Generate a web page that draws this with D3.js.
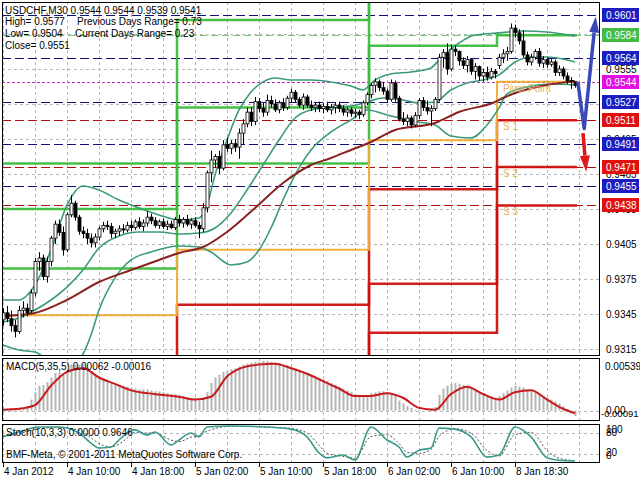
<!DOCTYPE html>
<html><head><meta charset="utf-8">
<script src="https://cdn.jsdelivr.net/npm/d3@7"></script>
<style>
body{margin:0;background:#fff}
svg{display:block}
text{font-family:"Liberation Sans",Arial,sans-serif;font-size:10px}
</style>
</head><body>
<svg id="c" width="640" height="480"></svg>
<script>
// ---------- DATA ----------
const open =[.9340,.9346,.9341,.9335,.9330,.9348,.9350,.9348,.9363,.9390,.9393,.9377,.9390,.9410,.9422,.9415,.9400,.9430,.9440,.9428,.9416,.9414,.9410,.9406,.9411,.9418,.9421,.9420,.9414,.9416,.9418,.9417,.9421,.9419,.9424,.9420,.9423,.9428,.9425,.9421,.9424,.9420,.9422,.9419,
.9426,.9423,.9426,.9422,.9425,.9421,.9418,.9436,.9466,.9477,.9480,.9470,.9490,.9487,.9491,.9488,.9500,.9508,.9518,.9510,.9527,.9521,.9518,.9528,.9525,.9520,.9526,.9522,.9530,.9535,.9529,.9524,.9531,.9524,.9522,.9524,.9521,.9523,.9520,.9522,.9524,.9521,.9518,.9520,.9517,.9518,.9516,.9526,
.9533,.9541,.9544,.9539,.9536,.9529,.9543,.9530,.9512,.9510,.9513,.9507,.9515,.9528,.9522,.9519,.9521,.9529,.9565,.9569,.9555,.9572,.9570,.9562,.9558,.9563,.9553,.9557,.9549,.9552,.9548,.9553,
.9558,.9565,.9568,.9570,.9590,.9586,.9579,.9567,.9561,.9565,.9570,.9560,.9563,.9559,.9561,.9552,.9555,.9549,.9545,.9544];
const high =[.9350,.9352,.9348,.9340,.9352,.9356,.9354,.9366,.9393,.9398,.9396,.9394,.9412,.9425,.9426,.9420,.9432,.9447,.9442,.9430,.9420,.9418,.9414,.9414,.9420,.9424,.9425,.9423,.9418,.9421,.9422,.9424,.9425,.9426,.9428,.9426,.9433,.9431,.9428,.9426,.9427,.9425,.9425,.9428,
.9430,.9428,.9430,.9427,.9428,.9424,.9440,.9468,.9485,.9482,.9485,.9494,.9496,.9494,.9495,.9504,.9512,.9522,.9522,.9531,.9530,.9526,.9533,.9532,.9529,.9528,.9530,.9532,.9538,.9537,.9531,.9534,.9533,.9528,.9526,.9527,.9526,.9527,.9525,.9526,.9527,.9524,.9522,.9522,.9521,.9520,.9528,.9535,
.9543,.9547,.9546,.9544,.9538,.9546,.9545,.9532,.9518,.9516,.9515,.9518,.9530,.9531,.9528,.9524,.9531,.9568,.9572,.9577,.9576,.9575,.9571,.9565,.9566,.9564,.9560,.9558,.9555,.9557,.9556,.9555,
.9568,.9572,.9574,.9594,.9593,.9589,.9588,.9570,.9568,.9572,.9573,.9566,.9565,.9564,.9563,.9558,.9557,.9552,.9548,.9544];
const low  =[.9335,.9338,.9330,.9325,.9328,.9342,.9343,.9346,.9360,.9382,.9374,.9372,.9386,.9405,.9412,.9395,.9398,.9428,.9425,.9413,.9410,.9405,.9402,.9402,.9408,.9415,.9417,.9410,.9410,.9412,.9414,.9415,.9416,.9417,.9418,.9416,.9420,.9422,.9419,.9418,.9418,.9417,.9418,.9417,
.9420,.9419,.9420,.9418,.9419,.9410,.9415,.9432,.9458,.9470,.9465,.9468,.9484,.9482,.9484,.9478,.9490,.9505,.9506,.9507,.9518,.9514,.9515,.9522,.9518,.9517,.9519,.9520,.9526,.9526,.9522,.9520,.9522,.9519,.9518,.9518,.9517,.9518,.9516,.9517,.9518,.9515,.9514,.9514,.9513,.9512,.9514,.9524,
.9530,.9535,.9536,.9533,.9526,.9527,.9527,.9510,.9507,.9506,.9504,.9505,.9512,.9519,.9516,.9506,.9519,.9527,.9556,.9550,.9553,.9566,.9558,.9555,.9552,.9550,.9546,.9545,.9544,.9545,.9546,.9547,
.9555,.9560,.9562,.9568,.9582,.9576,.9565,.9558,.9558,.9563,.9557,.9556,.9556,.9557,.9549,.9549,.9546,.9542,.9538,.9539];
const close=[.9346,.9341,.9335,.9330,.9348,.9350,.9346,.9363,.9390,.9393,.9377,.9390,.9410,.9422,.9415,.9400,.9430,.9440,.9428,.9416,.9414,.9410,.9406,.9411,.9418,.9421,.9420,.9414,.9416,.9418,.9417,.9421,.9419,.9424,.9420,.9423,.9428,.9425,.9421,.9424,.9420,.9422,.9419,.9426,
.9423,.9426,.9422,.9425,.9421,.9418,.9436,.9466,.9477,.9480,.9470,.9490,.9487,.9491,.9488,.9500,.9508,.9518,.9510,.9527,.9521,.9518,.9528,.9525,.9520,.9526,.9522,.9530,.9535,.9529,.9524,.9531,.9524,.9522,.9524,.9521,.9523,.9520,.9522,.9524,.9521,.9518,.9520,.9517,.9518,.9516,.9526,.9533,
.9541,.9544,.9539,.9536,.9529,.9543,.9530,.9512,.9510,.9513,.9507,.9515,.9528,.9522,.9519,.9521,.9529,.9565,.9569,.9555,.9572,.9570,.9562,.9558,.9563,.9553,.9557,.9549,.9552,.9548,.9553,.9551,
.9565,.9568,.9570,.9590,.9586,.9579,.9567,.9561,.9565,.9570,.9560,.9563,.9559,.9561,.9552,.9555,.9549,.9545,.9544,.9541];

const maIdx=[0,8,16,24,32,39,44,50,56,63,70,77,82,87,92,98,108,114,123,125,128,136,141,143];
const maVal=[.93433,.93459,.9357,.93724,.93827,.93913,.93973,.94024,.94153,.94359,.94573,.94727,.94787,.94856,.94924,.95027,.95087,.95181,.95267,.95301,.95344,.95413,.95438,.95447];

const bbUpIdx=[0,4,8,12,16,20,24,29,34,39,44,49,51,53,56,59,62,65,68,72,77,82,87,90,93,97,102,107,109,114,118,124,130,136,143];
const bbUp=[.9357,.9357,.93699,.93999,.94384,.94547,.94513,.94427,.94359,.94299,.94256,.94273,.94384,.94641,.94941,.95199,.95353,.95439,.95473,.95456,.95456,.95439,.95404,.9537,.95456,.95507,.95524,.95559,.95627,.95773,.95841,.95859,.95876,.95867,.95833];
const bbMidIdx=[0,4,8,12,16,20,24,29,34,39,44,49,53,57,61,65,69,73,77,82,87,91,95,100,104,108,112,116,120,124,128,132,136,140,143];
const bbMid=[.93381,.93416,.93484,.9357,.93681,.93827,.94016,.94119,.94153,.94153,.94136,.94144,.94187,.94316,.94513,.94727,.94941,.9513,.95199,.95224,.95233,.95267,.95301,.95284,.95258,.95267,.9537,.9543,.95456,.95499,.9561,.95653,.95653,.95636,.9561];
const bbLowIdx=[0,4,8,12,16,20,22,24,28,32,37,44,49,52,57,61,64,67,70,73,77,82,87,91,97,104,108,112,117,121,124,126,131,137,143];
const bbLow=[.93184,.93141,.93124,.93039,.92996,.93107,.9327,.93484,.93759,.93913,.93981,.94033,.94024,.93981,.9387,.93896,.93999,.94187,.94427,.94641,.94856,.9501,.95113,.95199,.95147,.95096,.9507,.94976,.94959,.9507,.95216,.95336,.95396,.95421,.95413];

// daily pivot levels (days start at bar index)
const dayStart=[0,44,92,124];
const PP=[.9344,.9400,.9494,.9544];
const R1=[.9384,.9474,.9575,.9584];
const R2=[.9435,.9522,.9617,.9617];
const R3=[.9474,.9597,.9698,.9657];
const S1=[.9293,.9353,.9452,.9511];
const S2=[.9253,.9278,.9371,.9471];
const S3=[.9202,.9231,.9329,.9438];

const levelVals=[.9601,.9584,.9564,.9544,.9527,.9511,.9491,.9471,.9455,.9438];
const levelKind=["mid","res","mid","piv","mid","sup","mid","sup","mid","sup"];

const priceTicks=[.9315,.9345,.9375,.9405,.9435,.9465,.9495,.9525,.9555,.9585];

const macdHist=[.0002,.0002,.0003,.0002,.0003,.0004,.0005,.0012,.0020,.0027,.0028,.0031,.0036,.0041,.0042,.0041,.0045,.0050,.0050,.0050,.0051,.0047,.0043,.0039,.0036,.0034,.0032,.0030,.0029,.0028,.0027,.0026,.0025,.0024,.0023,.0023,.0023,.0022,.0021,.0021,.0020,.0019,.0018,.0018,
.0017,.0016,.0015,.0014,.0013,.0011,.0014,.0020,.0030,.0036,.0039,.0042,.0043,.0045,.0046,.0048,.0050,.0051,.0052,.0053,.0053,.0054,.0054,.0053,.0052,.0051,.0050,.0049,.0048,.0046,.0044,.0043,.0041,.0039,.0037,.0036,.0034,.0032,.0030,.0028,.0026,.0024,.0022,.0020,.0018,.0016,.0016,.0017,
.0019,.0020,.0021,.0021,.0020,.0018,.0016,.0011,.0008,.0005,.0003,.0001,.0001,.0000,.0000,.0001,.0004,.0017,.0024,.0027,.0029,.0030,.0029,.0028,.0027,.0025,.0023,.0021,.0019,.0017,.0015,.0014,
.0016,.0019,.0022,.0025,.0027,.0026,.0025,.0023,.0021,.0020,.0018,.0016,.0014,.0012,.0010,.0008,.0005,.0002,-.0002,-.0006];
const macdSigIdx=[0,4,8,12,16,20,24,28,32,36,40,44,48,52,56,60,64,68,72,76,80,84,88,92,96,100,104,108,112,116,120,124,128,132,136,140,143];
const macdSig=[.0001,.0002,.0006,.0027,.0042,.0046,.0036,.0029,.0022,.0019,.0017,.0015,.0012,.0015,.0037,.0047,.0050,.0051,.0046,.0040,.0032,.0024,.0016,.0016,.0019,.0014,.0003,.0001,.0018,.0026,.0018,.0012,.0020,.0022,.0012,.0002,-.0003];

const stIdx=[0,4,9,14,19,22,24,27,29,31,33,36,38,42,44,47,49,51,57,66,72,76,79,81,85,88,92,96,99,101,104,107,109,113,117,121,124,128,132,136,139,143];
const stMain=[69,83,97,97,80,51,37,40,60,80,89,74,83,46,60,80,69,97,100,97,91,69,23,9,17,3,97,60,40,11,31,37,94,91,69,11,17,97,69,9,2,0];
const stSig=[72,78,92,96,88,66,50,40,48,65,82,80,80,60,55,68,72,85,99,97,93,80,45,22,13,8,70,75,50,25,22,33,70,92,80,30,14,75,82,30,8,1];

const tickIdx=[0,16,32,48,64,80,96,112,128];
const tickLab=["4 Jan 2012","4 Jan 10:00","4 Jan 18:00","5 Jan 02:00","5 Jan 10:00","5 Jan 18:00","6 Jan 02:00","6 Jan 10:00","8 Jan 18:30"];

const prevHigh=.9577, prevLow=.9504, prevClose=.9551;
const blueArrow=[[143.7,.9544],[145.3,.9504],[148.2,.9600]];
const redArrow=[[145.0,.9500],[145.8,.9467]];

// ---------- CHART ----------
const svg=d3.select("#c");
const L=2,R=600;
const P1={t:2,b:356},P2={t:358,b:421},P3={t:424,b:463};
const x=d3.scaleLinear().domain([0,149.25]).range([3,600]);
const yP=d3.scaleLinear().domain([0.93090,0.96124]).range([356,2]);
const yM=d3.scaleLinear().domain([-0.00091,0.00539]).range([419,361]);
const yS=d3.scaleLinear().domain([0,100]).range([461,426]);
const f4=d3.format(".4f");

const defs=svg.append("defs");
[["c1",P1],["c2",P2],["c3",P3]].forEach(([id,p])=>{
  defs.append("clipPath").attr("id",id).append("rect").attr("x",L).attr("y",p.t).attr("width",R-L).attr("height",p.b-p.t);
});
const g1=svg.append("g").attr("clip-path","url(#c1)");
const g2=svg.append("g").attr("clip-path","url(#c2)");
const g3=svg.append("g").attr("clip-path","url(#c3)");

// grid
const gridC="#b8b8b8";
const vIdx=d3.range(0,150,8);
[[g1,P1],[g2,P2],[g3,P3]].forEach(([g,p])=>{
  g.selectAll(null).data(vIdx).join("line")
   .attr("x1",d=>x(d)+0.5).attr("x2",d=>x(d)+0.5).attr("y1",p.t).attr("y2",p.b)
   .attr("stroke",gridC).attr("stroke-dasharray","3,3");
});
g1.selectAll(null).data(priceTicks).join("line")
  .attr("x1",L).attr("x2",R).attr("y1",d=>Math.round(yP(d))+0.5).attr("y2",d=>Math.round(yP(d))+0.5)
  .attr("stroke",gridC).attr("stroke-dasharray","3,3");
g2.append("line").attr("x1",L).attr("x2",R).attr("y1",Math.round(yM(0))+0.5).attr("y2",Math.round(yM(0))+0.5).attr("stroke",gridC).attr("stroke-dasharray","3,3");
g3.selectAll(null).data([80,20]).join("line")
  .attr("x1",L).attr("x2",R).attr("y1",d=>Math.round(yS(d))+0.5).attr("y2",d=>Math.round(yS(d))+0.5)
  .attr("stroke",gridC).attr("stroke-dasharray","3,3");

// level dashed lines
const kindStyle={mid:{c:"#10107a",d:"9,4"},res:{c:"#70c870",d:"7,4"},piv:{c:"#c030c0",d:"3,2"},sup:{c:"#b01010",d:"9,4"}};
g1.selectAll(null).data(levelVals).join("line")
  .attr("x1",L).attr("x2",R).attr("y1",d=>Math.round(yP(d))+0.5).attr("y2",d=>Math.round(yP(d))+0.5)
  .attr("stroke",(d,k)=>kindStyle[levelKind[k]].c).attr("stroke-dasharray",(d,k)=>kindStyle[levelKind[k]].d);

// pivot step lines
const xb=dayStart.map((s,k)=>k===0?L:x(s-0.5));
const xEnd=x(close.length-0.5);
const stepLine=d3.line().x(d=>d[0]).y(d=>yP(d[1])).curve(d3.curveStepAfter);
function steps(v){const pts=v.map((val,k)=>[xb[k],val]);pts.push([xEnd,v[v.length-1]]);return pts;}
[[R3,"#3cbc3c",2.5],[R2,"#3cbc3c",2.5],[R1,"#3cbc3c",2.5],[S3,"#d01010",2.5],[S2,"#d01010",2.5],[S1,"#d01010",2.5],[PP,"#f0ac30",2]].forEach(([v,c,w])=>{
  g1.append("path").attr("d",stepLine(steps(v))).attr("fill","none").attr("stroke",c).attr("stroke-width",w).attr("stroke-opacity",0.95);
});

// Bollinger bands + MA
const ln=(ys)=>d3.line().x(d=>x(d[0])).y(d=>ys(d[1])).curve(d3.curveMonotoneX);
[[bbUpIdx,bbUp],[bbMidIdx,bbMid],[bbLowIdx,bbLow]].forEach(([ix,v])=>{
  g1.append("path").attr("d",ln(yP)(d3.zip(ix,v))).attr("fill","none").attr("stroke","#3c9a78").attr("stroke-width",1.6);
});
g1.append("path").attr("d",ln(yP)(d3.zip(maIdx,maVal))).attr("fill","none").attr("stroke","#8a2222").attr("stroke-width",2);

// candles
const idx=d3.range(close.length);
g1.selectAll(null).data(idx).join("line")
  .attr("x1",i=>x(i)+0.5).attr("x2",i=>x(i)+0.5).attr("y1",i=>yP(high[i])).attr("y2",i=>yP(low[i]))
  .attr("stroke","#000").attr("stroke-width",1);
g1.selectAll(null).data(idx).join("rect")
  .attr("x",i=>x(i)-1).attr("width",3)
  .attr("y",i=>yP(Math.max(open[i],close[i])))
  .attr("height",i=>Math.max(1,Math.abs(yP(open[i])-yP(close[i]))))
  .attr("fill",i=>close[i]>=open[i]?"#fff":"#000").attr("stroke","#000").attr("stroke-width",0.8);

// pivot labels on last day
const lastDay=dayStart.length-1;
[["Pivot Point",PP[lastDay]],["S 1",S1[lastDay]],["S 2",S2[lastDay]],["S 3",S3[lastDay]]].forEach(([t,v])=>{
  g1.append("text").attr("x",x(dayStart[lastDay])+4).attr("y",yP(v)+10).attr("fill","#e6b45a").text(t);
});

// arrows
function arrow(pts,color){
  const p=pts.map(d=>[x(d[0]),yP(d[1])]);
  const a=p[p.length-2],b=p[p.length-1];
  const dx=b[0]-a[0],dy=b[1]-a[1],len=Math.hypot(dx,dy),ux=dx/len,uy=dy/len;
  const hl=16,hw=5;
  const base=[b[0]-ux*hl,b[1]-uy*hl];
  const p2=p.slice(0,-1).concat([base]);
  svg.append("path").attr("d",d3.line()(p2)).attr("fill","none").attr("stroke",color).attr("stroke-width",3.5).attr("stroke-linejoin","round");
  svg.append("path").attr("d",d3.line()([[base[0]-uy*hw,base[1]+ux*hw],b,[base[0]+uy*hw,base[1]-ux*hw]])+"Z").attr("fill",color);
}
arrow(blueArrow,"#3a48b8");
arrow(redArrow,"#e01818");

// MACD
g2.selectAll(null).data(idx).join("rect")
  .attr("x",i=>x(i)-0.5).attr("width",2)
  .attr("y",i=>Math.min(yM(macdHist[i]),yM(0))).attr("height",i=>Math.abs(yM(macdHist[i])-yM(0)))
  .attr("fill","#b4b4b4");
g2.append("path").attr("d",ln(yM)(d3.zip(macdSigIdx,macdSig))).attr("fill","none").attr("stroke","#c81c1c").attr("stroke-width",2);

// Stoch
g3.append("path").attr("d",ln(yS)(d3.zip(stIdx,stSig))).attr("fill","none").attr("stroke","#222").attr("stroke-width",0.8).attr("stroke-dasharray","2,2");
g3.append("path").attr("d",ln(yS)(d3.zip(stIdx,stMain))).attr("fill","none").attr("stroke","#3a9a8a").attr("stroke-width",1.6);

// panel frames
[P1,P2,P3].forEach(p=>{
  svg.append("rect").attr("x",L+0.5).attr("y",p.t+0.5).attr("width",R-L-1).attr("height",p.b-p.t-1).attr("fill","none").attr("stroke","#000");
});

// price axis labels (those fully hidden behind a level box are skipped)
const visibleTicks=priceTicks.filter(t=>!levelVals.some(v=>Math.abs(yP(t)-yP(v))<3));
svg.selectAll(null).data(visibleTicks).join("text")
  .attr("x",606).attr("y",d=>yP(d)+4).attr("fill","#000").text(d=>f4(d));
const boxC={mid:"#1c1cc0",res:"#44bb44",piv:"#e010e0",sup:"#e01010"};
levelVals.forEach((v,k)=>{
  const yy=Math.round(yP(v));
  svg.append("rect").attr("x",602).attr("y",yy-7).attr("width",37).attr("height",14).attr("fill",boxC[levelKind[k]]);
  svg.append("text").attr("x",606).attr("y",yy+4).attr("fill","#fff").text(f4(v));
});

// MACD / Stoch axis labels
svg.append("text").attr("x",605).attr("y",370).text("0.00539");
svg.append("text").attr("x",606).attr("y",yM(0)+3).text("0.00");
svg.append("text").attr("x",601).attr("y",yM(0)+6).style("font-size","9.5px").text("-0.00091");
svg.append("text").attr("x",606).attr("y",433).text("100");
svg.append("text").attr("x",606).attr("y",436).text("80");
svg.append("text").attr("x",606).attr("y",456).text("20");
svg.append("text").attr("x",606).attr("y",459).text("0");

// time axis
tickIdx.forEach((t,k)=>{
  svg.append("line").attr("x1",x(t)+0.5).attr("x2",x(t)+0.5).attr("y1",P3.b).attr("y2",P3.b+4).attr("stroke","#000");
  svg.append("text").attr("x",x(t)+1).attr("y",475).text(tickLab[k]);
});

// header texts
const n=close.length-1;
svg.append("text").attr("x",5).attr("y",14).text(`USDCHF,M30  ${f4(open[n])} ${f4(high[n])} ${f4(low[n])} ${f4(close[n])}`);
svg.append("text").attr("x",5).attr("y",25).text(`High= ${f4(prevHigh)}`);
svg.append("text").attr("x",5).attr("y",37).text(`Low= ${f4(prevLow)}`);
svg.append("text").attr("x",5).attr("y",49).text(`Close= ${f4(prevClose)}`);
svg.append("text").attr("x",77).attr("y",25).text("Previous Days Range= 0.73");
svg.append("text").attr("x",75).attr("y",37).text("Current Days Range= 0.23");

svg.append("text").attr("x",6).attr("y",370).text("MACD(5,35,5) 0.00062 -0.00016");
svg.append("text").attr("x",6).attr("y",436).text("Stoch(10,3,3) 0.0000 0.9646");
svg.append("text").attr("x",6).attr("y",458).text("BMF-Meta, © 2001-2011 MetaQuotes Software Corp.");
</script>
</body></html>
